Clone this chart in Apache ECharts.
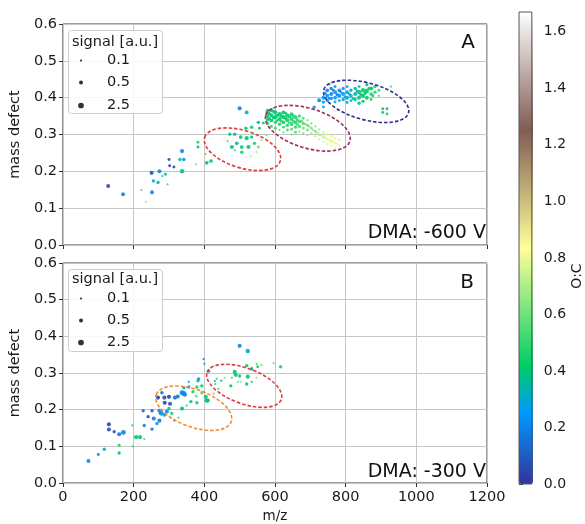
<!DOCTYPE html>
<html><head><meta charset="utf-8">
<script src="https://cdn.jsdelivr.net/npm/echarts@6/dist/echarts.min.js"></script>
<style>html,body{margin:0;padding:0;background:#fff}#c{width:585px;height:524px}</style>
</head><body><div id="c"></div>
<script>
// ---------- DATA: [m/z, mass defect, signal, O:C] ----------
const aSparse = [[128,0.160,0.5,0.05],[170,0.138,0.5,0.20],[222,0.149,0.1,0.55],[235,0.117,0.1,0.70],[251,0.196,0.6,0.08],[256,0.174,0.3,0.30],[252,0.143,0.5,0.20],[269,0.170,0.3,0.35],[273,0.200,0.5,0.20],[281,0.187,0.1,0.45],[290,0.192,0.2,0.35],[296,0.165,0.1,0.50],[300,0.232,0.2,0.05],[302,0.215,0.2,0.05],[314,0.212,0.2,0.05],[337,0.255,0.6,0.20],[331,0.232,0.3,0.35],[342,0.232,0.3,0.22],[337,0.200,0.8,0.40],[376,0.219,0.1,0.60],[382,0.279,0.2,0.45],[382,0.266,0.2,0.40],[407,0.223,0.4,0.40],[419,0.228,0.4,0.40],[404,0.247,0.1,0.55],[500,0.371,0.6,0.20],[520,0.360,0.5,0.30]];
const aRedCluster = [[472,0.301,0.3,0.40],[486,0.301,0.3,0.32],[503,0.293,0.4,0.40],[520,0.290,0.6,0.40],[534,0.293,0.3,0.42],[478,0.266,0.6,0.38],[492,0.276,0.4,0.40],[506,0.266,0.4,0.42],[525,0.266,0.6,0.40],[542,0.276,0.3,0.45],[553,0.266,0.2,0.60],[506,0.252,0.3,0.45],[486,0.257,0.1,0.50],[548,0.252,0.1,0.70],[562,0.285,0.1,0.65],[520,0.317,0.1,0.45],[556,0.317,0.2,0.42],[553,0.333,0.3,0.32],[517,0.317,0.2,0.40],[534,0.320,0.3,0.42],[567,0.331,0.2,0.45],[466,0.282,0.1,0.55],[576,0.298,0.1,0.60],[531,0.241,0.1,0.70]];
const aMaroonCluster = [[579,0.360,0.6,0.42],[579,0.350,0.4,0.40],[579,0.340,0.3,0.42],[579,0.330,0.2,0.45],[590,0.366,0.5,0.40],[590,0.352,0.6,0.40],[590,0.338,0.4,0.42],[590,0.322,0.2,0.48],[601,0.360,0.6,0.42],[601,0.347,0.6,0.40],[601,0.333,0.3,0.45],[601,0.317,0.2,0.50],[613,0.355,0.8,0.40],[613,0.342,0.5,0.42],[613,0.328,0.3,0.45],[613,0.312,0.1,0.55],[624,0.360,0.5,0.40],[624,0.347,0.6,0.42],[624,0.333,0.4,0.45],[624,0.320,0.2,0.50],[624,0.306,0.1,0.55],[635,0.352,0.6,0.42],[635,0.339,0.6,0.44],[635,0.325,0.3,0.48],[635,0.312,0.2,0.52],[647,0.355,0.5,0.45],[647,0.342,0.5,0.45],[647,0.328,0.4,0.48],[647,0.314,0.2,0.55],[647,0.300,0.1,0.60],[658,0.347,0.5,0.45],[658,0.333,0.4,0.48],[658,0.320,0.3,0.50],[658,0.306,0.2,0.55],[669,0.350,0.3,0.50],[669,0.336,0.4,0.50],[669,0.322,0.3,0.52],[669,0.308,0.1,0.60],[680,0.344,0.2,0.55],[680,0.330,0.3,0.55],[680,0.317,0.2,0.60],[680,0.303,0.1,0.60],[692,0.339,0.1,0.60],[692,0.325,0.2,0.58],[692,0.312,0.2,0.60],[692,0.298,0.1,0.65],[703,0.330,0.1,0.60],[703,0.317,0.2,0.62],[703,0.303,0.1,0.65],[714,0.322,0.1,0.65],[714,0.308,0.2,0.62],[714,0.295,0.1,0.70],[725,0.314,0.1,0.68],[725,0.300,0.2,0.70],[725,0.287,0.1,0.75],[737,0.306,0.1,0.72],[737,0.293,0.3,0.75],[737,0.280,0.1,0.75],[748,0.300,0.2,0.78],[748,0.287,0.2,0.80],[748,0.274,0.1,0.78],[759,0.295,0.2,0.80],[759,0.282,0.3,0.78],[759,0.268,0.1,0.80],[770,0.290,0.2,0.80],[770,0.276,0.1,0.80],[770,0.262,0.1,0.75],[782,0.285,0.1,0.75],[782,0.271,0.1,0.80],[579,0.365,0.3,0.35],
  [584,0.357,0.2,0.42],[584,0.343,0.3,0.40],[596,0.362,0.2,0.40],[596,0.345,0.3,0.42],[607,0.352,0.3,0.42],[607,0.338,0.2,0.45],[618,0.350,0.3,0.42],[618,0.336,0.2,0.46],[630,0.358,0.2,0.44],[630,0.344,0.3,0.44],[641,0.348,0.3,0.45],[641,0.332,0.2,0.50],[652,0.350,0.2,0.48],[652,0.336,0.3,0.50],[663,0.340,0.2,0.50],[663,0.327,0.2,0.52],[675,0.336,0.2,0.55],[686,0.328,0.1,0.58],[697,0.322,0.1,0.60],[708,0.312,0.1,0.65],[720,0.305,0.1,0.68],[731,0.298,0.1,0.72],[742,0.292,0.2,0.78],[753,0.285,0.1,0.80],[765,0.280,0.2,0.80],[776,0.275,0.1,0.78]];
const aBlueCluster = [[737,0.400,0.4,0.22],[737,0.388,0.3,0.25],[737,0.375,0.2,0.30],[748,0.420,0.4,0.20],[748,0.405,0.5,0.22],[748,0.392,0.3,0.25],[759,0.425,0.3,0.20],[759,0.410,0.5,0.20],[759,0.398,0.3,0.22],[770,0.430,0.2,0.20],[770,0.415,0.5,0.22],[770,0.400,0.4,0.25],[770,0.388,0.2,0.30],[782,0.420,0.4,0.22],[782,0.405,0.5,0.22],[782,0.392,0.2,0.28],[793,0.425,0.3,0.25],[793,0.410,0.5,0.25],[793,0.395,0.3,0.30],[804,0.430,0.2,0.25],[804,0.415,0.4,0.28],[804,0.400,0.5,0.30],[804,0.387,0.2,0.32],[815,0.420,0.3,0.30],[815,0.405,0.4,0.30],[815,0.392,0.2,0.35],[827,0.425,0.3,0.32],[827,0.410,0.6,0.35],[827,0.395,0.3,0.38],[838,0.430,0.2,0.35],[838,0.415,0.6,0.40],[838,0.400,0.5,0.38],[838,0.385,0.3,0.40],[849,0.420,0.8,0.42],[849,0.405,0.6,0.40],[849,0.390,0.3,0.42],[860,0.435,0.3,0.42],[860,0.418,0.8,0.40],[860,0.400,0.5,0.42],[872,0.425,0.6,0.42],[872,0.410,0.4,0.45],[872,0.395,0.2,0.48],[883,0.430,0.3,0.45],[883,0.415,0.3,0.48],[894,0.420,0.2,0.50],[894,0.405,0.1,0.50],[905,0.370,0.2,0.42],[905,0.360,0.2,0.42],[917,0.370,0.2,0.42],[917,0.356,0.2,0.45],[928,0.430,0.1,0.50],[725,0.393,0.5,0.22],[711,0.374,0.3,0.30],[754,0.436,0.1,0.30],
  [742,0.412,0.2,0.22],[753,0.398,0.2,0.25],[765,0.420,0.2,0.20],[776,0.408,0.3,0.22],[787,0.415,0.2,0.25],[798,0.402,0.2,0.28],[810,0.410,0.2,0.30],[821,0.398,0.2,0.35],[832,0.418,0.2,0.35],[843,0.408,0.3,0.40],[855,0.412,0.3,0.42],[866,0.425,0.2,0.42],[877,0.405,0.2,0.45]];

const bSparse = [[72,0.060,0.5,0.20],[100,0.078,0.2,0.20],[117,0.092,0.3,0.30],[130,0.160,0.6,0.05],[130,0.146,0.5,0.05],[145,0.140,0.3,0.08],[159,0.133,0.6,0.18],[171,0.138,1.2,0.20],[159,0.103,0.2,0.45],[159,0.082,0.3,0.40],[198,0.100,0.1,0.50],[207,0.125,0.6,0.40],[218,0.125,0.6,0.42],[230,0.120,0.1,0.55],[196,0.157,0.1,0.50],[230,0.157,0.3,0.20],[227,0.197,0.3,0.15],[241,0.181,0.3,0.08],[252,0.197,0.3,0.10],[257,0.176,0.6,0.18],[252,0.147,0.3,0.15],[266,0.162,0.3,0.22],[273,0.197,0.6,0.20],[278,0.190,1.2,0.22],[287,0.186,0.6,0.30],[294,0.195,0.6,0.22],[273,0.170,0.6,0.20],[300,0.203,0.3,0.40],[308,0.190,0.3,0.45],[314,0.170,0.1,0.50],[327,0.178,0.1,0.50],[337,0.203,0.6,0.40]];
const bOrangeCluster = [[269,0.233,0.6,0.05],[287,0.233,0.6,0.05],[300,0.235,0.6,0.05],[288,0.219,0.6,0.05],[303,0.216,0.6,0.08],[280,0.246,0.3,0.15],[317,0.233,0.6,0.15],[325,0.236,0.6,0.18],[337,0.246,1.2,0.20],[345,0.241,0.6,0.20],[342,0.244,1.2,0.20],[356,0.262,0.3,0.22],[356,0.276,0.1,0.22],[342,0.260,0.3,0.30],[368,0.249,0.3,0.45],[376,0.238,0.1,0.50],[350,0.211,0.1,0.50],[362,0.222,0.3,0.35],[379,0.219,0.3,0.45],[393,0.265,0.3,0.42],[384,0.284,0.3,0.25],[382,0.279,0.3,0.35],[379,0.262,0.3,0.45],[404,0.235,0.6,0.40],[407,0.225,1.0,0.40],[410,0.225,0.6,0.42],[393,0.246,0.3,0.55],[379,0.235,0.1,0.60],[427,0.244,0.1,0.60]];
const bRedCluster = [[398,0.338,0.1,0.20],[400,0.325,0.1,0.22],[412,0.305,0.3,0.22],[431,0.270,0.1,0.45],[440,0.257,0.1,0.50],[448,0.279,0.1,0.35],[500,0.374,0.6,0.20],[523,0.360,0.8,0.30],[486,0.303,0.6,0.40],[489,0.295,0.6,0.40],[500,0.292,0.3,0.42],[523,0.290,0.6,0.40],[520,0.320,0.3,0.42],[534,0.314,0.1,0.55],[534,0.311,0.3,0.35],[548,0.325,0.1,0.50],[478,0.287,0.1,0.50],[475,0.265,0.3,0.40],[495,0.276,0.1,0.60],[503,0.276,0.1,0.65],[520,0.270,0.3,0.40],[534,0.276,0.1,0.45],[548,0.287,0.1,0.65],[458,0.287,0.1,0.60],[430,0.278,0.1,0.35],[435,0.284,0.1,0.50],[596,0.327,0.1,0.55],[616,0.317,0.3,0.45],[562,0.322,0.1,0.60],[551,0.317,0.2,0.45]];

// ellipse annotations: [centre m/z, centre MD, major-axis end m/z, major-axis end MD, minor/major ratio]
const ellipsesA = [[508,0.260,615,0.228,0.47],[693,0.317,812,0.282,0.45],[858,0.390,978,0.359,0.42]];
const ellipsesB = [[370,0.204,476,0.167,0.47],[513,0.265,618,0.228,0.45]];
const ellipseColorsA = ['#e23a3a','#9a2d63','#2f2f8f'];
const ellipseColorsB = ['#f08c30','#e23a3a'];

const legendSignals = [0.1, 0.5, 2.5];
const X_MIN = 0, X_MAX = 1200, X_STEP = 200;
const Y_MIN = 0, Y_MAX = 0.6, Y_STEP = 0.1;
const OC_MIN = 0, OC_MAX = 1.67, OC_STEP = 0.2;

// ---------- styling helpers ----------
const FONT = 'DejaVu Sans';
const FS = 14.5;
const TERRAIN = [[0,[0.2,0.2,0.6]],[0.15,[0,0.6,1]],[0.25,[0,0.8,0.4]],[0.5,[1,1,0.6]],[0.75,[0.5,0.36,0.33]],[1,[1,1,1]]];
function terrainColor(t){
  for (let i=1;i<TERRAIN.length;i++){
    if (t<=TERRAIN[i][0]+1e-9){
      const [t0,c0]=TERRAIN[i-1],[t1,c1]=TERRAIN[i];
      const f=(t-t0)/(t1-t0);
      const c=c0.map((v,k)=>Math.round(255*(v+(c1[k]-v)*f)));
      return 'rgb('+c.join(',')+')';
    }
  }
  return 'rgb(255,255,255)';
}
const cmap = []; for (let i=0;i<=60;i++) cmap.push(terrainColor(i/60));
function sizeOf(s){ return Math.max(1.6, 2.2 + 2.5*Math.log10(s/0.1)); }

function ellipseItem(params, api){
  const c = api.coord([api.value(0), api.value(1)]);
  const e = api.coord([api.value(2), api.value(3)]);
  const dx = e[0]-c[0], dy = e[1]-c[1];
  const a = Math.hypot(dx, dy), b = a*api.value(4);
  return {type:'ellipse', x:c[0], y:c[1], rotation:-Math.atan2(dy,dx),
    shape:{cx:0, cy:0, rx:a, ry:b},
    style:{fill:'none', stroke:api.visual('color'), lineWidth:1.6, lineDash:[3.5,2]}};
}
function ellipseSeries(list, colors, gi){
  return list.map((e,i)=>({type:'custom', xAxisIndex:gi, yAxisIndex:gi, renderItem:ellipseItem,
    data:[e], itemStyle:{color:colors[i]}, silent:true, z:3, clip:false}));
}

function xAxisCfg(gi, labels){
  return {gridIndex:gi, type:'value', min:X_MIN, max:X_MAX, interval:X_STEP,
    axisLine:{show:false}, axisTick:{show:true, length:4, lineStyle:{color:'#333'}},
    axisLabel:{show:labels, fontSize:FS, color:'#1a1a1a', margin:7, fontFamily:FONT, formatter:v=>String(v)},
    splitLine:{show:true, lineStyle:{color:'#c6c6c6', width:1}},
    name: labels ? 'm/z' : '', nameLocation:'middle', nameGap:26,
    nameTextStyle:{fontSize:13.5, color:'#1a1a1a', fontFamily:FONT}};
}
function yAxisCfg(gi){
  return {gridIndex:gi, type:'value', min:Y_MIN, max:Y_MAX, interval:Y_STEP,
    axisLine:{show:false}, axisTick:{show:true, length:4, lineStyle:{color:'#333'}},
    axisLabel:{fontSize:FS, color:'#1a1a1a', margin:6, fontFamily:FONT, formatter:v=>v.toFixed(1)},
    splitLine:{show:true, lineStyle:{color:'#c6c6c6', width:1}},
    name:'mass defect', nameLocation:'middle', nameGap:35,
    nameTextStyle:{fontSize:FS, color:'#1a1a1a', fontFamily:FONT}};
}

const legendTopsA = [62, 84, 107], legendTopsB = [300, 322, 344];
const legends = [];
[legendTopsA, legendTopsB].forEach(tops=>{
  legendSignals.forEach((s,i)=>{
    const w = sizeOf(s);
    legends.push({show:true, data:[{name:String(s), icon:'circle'}], left:81-w/2, top:tops[i]-9,
      itemWidth:w, itemHeight:w, padding:0, selectedMode:false, z:6,
      textStyle:{fontSize:FS, color:'#1a1a1a', fontFamily:FONT, padding:[0,0,0,Math.max(0,107-(81+w/2)-5)]}});
  });
});

const option = {
  animation:false,
  backgroundColor:'#fff',
  textStyle:{fontFamily:FONT},
  title:[
    {text:'A', right:110, top:33, padding:0, textStyle:{fontSize:20, fontWeight:'normal', color:'#111', fontFamily:FONT}},
    {text:'DMA: -600 V', right:99, top:224, padding:0, textStyle:{fontSize:19, fontWeight:'normal', color:'#111', fontFamily:FONT}},
    {text:'B', right:111, top:273, padding:0, textStyle:{fontSize:20, fontWeight:'normal', color:'#111', fontFamily:FONT}},
    {text:'DMA: -300 V', right:99, top:463, padding:0, textStyle:{fontSize:19, fontWeight:'normal', color:'#111', fontFamily:FONT}}
  ],
  grid:[
    {left:60, top:24, width:427, height:221, show:true, borderColor:'#3a3a3a', borderWidth:1, backgroundColor:'transparent'},
    {left:60, top:263, width:427, height:222, show:true, borderColor:'#3a3a3a', borderWidth:1, backgroundColor:'transparent'},
    {left:519, top:12, width:14, height:472, show:true, borderColor:'#555', borderWidth:1, backgroundColor:'transparent', z:5}
  ],
  xAxis:[xAxisCfg(0,false), xAxisCfg(1,true), {gridIndex:2, type:'value', show:false, min:0, max:1}],
  yAxis:[yAxisCfg(0), yAxisCfg(1),
    {gridIndex:2, type:'value', position:'right', min:OC_MIN, max:OC_MAX, interval:OC_STEP,
     axisLine:{show:false}, axisTick:{show:true, length:4, lineStyle:{color:'#333'}},
     axisLabel:{fontSize:14, color:'#1a1a1a', margin:12, fontFamily:FONT, showMaxLabel:false,
       formatter:v=> (Math.abs(v/OC_STEP - Math.round(v/OC_STEP))<1e-6 ? v.toFixed(1) : '')},
     splitLine:{show:false},
     name:'O:C', nameLocation:'middle', nameGap:37, nameRotate:90,
     nameTextStyle:{fontSize:14, color:'#1a1a1a', fontFamily:FONT, padding:[0,56,0,0]}}],
  visualMap:{type:'continuous', seriesIndex:[0,1], dimension:3, min:OC_MIN, max:OC_MAX,
    inRange:{color:cmap}, left:519, top:12, itemWidth:14, itemHeight:472, padding:0,
    calculable:false, hoverLink:false, orient:'vertical'},
  legend: legends,
  graphic:[
    {type:'rect', left:68, top:30, z:5, shape:{width:94, height:83, r:3}, style:{fill:'rgba(255,255,255,0.85)', stroke:'#cccccc', lineWidth:1}},
    {type:'text', left:72, top:35, z:6, style:{text:'signal [a.u.]', fontSize:FS, fill:'#1a1a1a', fontFamily:FONT}},
    {type:'rect', left:68, top:269, z:5, shape:{width:94, height:82, r:3}, style:{fill:'rgba(255,255,255,0.85)', stroke:'#cccccc', lineWidth:1}},
    {type:'text', left:72, top:272, z:6, style:{text:'signal [a.u.]', fontSize:FS, fill:'#1a1a1a', fontFamily:FONT}}
  ],
  series:[
    {type:'scatter', xAxisIndex:0, yAxisIndex:0, data:[].concat(aSparse,aRedCluster,aMaroonCluster,aBlueCluster),
     symbolSize:v=>sizeOf(v[2]), itemStyle:{opacity:0.9}, silent:true, z:2},
    {type:'scatter', xAxisIndex:1, yAxisIndex:1, data:[].concat(bSparse,bOrangeCluster,bRedCluster),
     symbolSize:v=>sizeOf(v[2]), itemStyle:{opacity:0.9}, silent:true, z:2},
    ...legendSignals.map(s=>({name:String(s), type:'scatter', xAxisIndex:0, yAxisIndex:0, data:[], itemStyle:{color:'#000'}})),
    ...ellipseSeries(ellipsesA, ellipseColorsA, 0),
    ...ellipseSeries(ellipsesB, ellipseColorsB, 1)
  ]
};
const chart = echarts.init(document.getElementById('c'), null, {renderer:'canvas'});
chart.setOption(option);
</script></body></html>
